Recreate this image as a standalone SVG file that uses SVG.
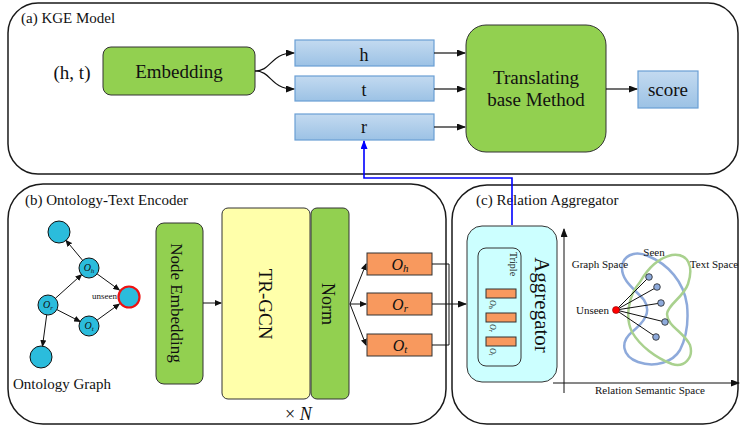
<svg xmlns="http://www.w3.org/2000/svg" width="741" height="426" viewBox="0 0 741 426">
<style>
text{font-family:"Liberation Serif","Times New Roman",serif;fill:#111}
.panel{fill:#fff;stroke:#1a1a1a;stroke-width:1.5}
.green{fill:#92d050;stroke:#333;stroke-width:1}
.blue{fill:url(#blueg);stroke:#6a9fd4;stroke-width:1.2}
.orange{fill:#f8995e;stroke:#333;stroke-width:1}
.node{fill:#2bbcdc;stroke:#111;stroke-width:1}
.edge{fill:none;stroke:#111;stroke-width:1.2}
.thin{fill:none;stroke:#111;stroke-width:1}
.lbl{font-size:19px;text-anchor:middle}
.title{font-size:15px}
.small{font-size:11px}
.math{font-style:italic}
</style>
<defs>
<linearGradient id="blueg" x1="0" y1="0" x2="0" y2="1">
<stop offset="0" stop-color="#c3daf0"/>
<stop offset="1" stop-color="#9cc2e5"/>
</linearGradient>
<marker id="ah" markerUnits="userSpaceOnUse" markerWidth="9" markerHeight="7" refX="8" refY="3.5" orient="auto">
<path d="M0,0 L9,3.5 L0,7 z" fill="#111"/>
</marker>
<marker id="ahs" markerUnits="userSpaceOnUse" markerWidth="7" markerHeight="6" refX="6" refY="3" orient="auto">
<path d="M0,0 L7,3 L0,6 z" fill="#111"/>
</marker>
<marker id="ahb" markerUnits="userSpaceOnUse" markerWidth="9" markerHeight="7" refX="8" refY="3.5" orient="auto">
<path d="M0,0 L9,3.5 L0,7 z" fill="#0000ff"/>
</marker>
</defs>

<!-- Panels -->
<g id="panel-a">
<rect class="panel" x="8" y="3" width="730" height="171" rx="30"/>
<text class="title" x="21" y="23">(a) KGE Model</text>
</g>
<g id="panel-b">
<rect class="panel" x="8" y="184" width="438" height="240" rx="35"/>
<text class="title" x="25" y="205">(b) Ontology-Text Encoder</text>
</g>
<g id="panel-c">
<rect class="panel" x="452" y="185" width="286" height="239" rx="35"/>
<text class="title" x="476" y="205">(c) Relation Aggregator</text>
</g>

<!-- Panel (a) nodes -->
<g id="input-ht"><text class="lbl" x="72" y="79">(h, t)</text></g>
<g id="embedding">
<rect class="green" x="103" y="47" width="152" height="48" rx="8"/>
<text class="lbl" x="179" y="78">Embedding</text>
</g>
<g id="h-box">
<rect class="blue" x="295" y="40" width="139" height="26"/>
<text class="lbl" x="364" y="61" style="font-size:18px">h</text>
</g>
<g id="t-box">
<rect class="blue" x="295" y="76" width="139" height="25"/>
<text class="lbl" x="364" y="96" style="font-size:18px">t</text>
</g>
<g id="r-box">
<rect class="blue" x="295" y="114" width="139" height="26"/>
<text class="lbl" x="364" y="133" style="font-size:18px">r</text>
</g>
<g id="translating">
<rect class="green" x="466" y="25" width="140" height="127" rx="20"/>
<text class="lbl" x="536" y="84">Translating</text>
<text class="lbl" x="536" y="106">base Method</text>
</g>
<g id="score">
<rect class="blue" x="638" y="71" width="60" height="37"/>
<text class="lbl" x="668" y="96">score</text>
</g>

<!-- Panel (b) nodes -->
<g id="onto-graph">
<circle class="node" cx="59" cy="232" r="11"/>
<circle class="node" cx="89" cy="268" r="10"/>
<circle class="node" cx="129" cy="297" r="10.5" style="stroke:#ee1111;stroke-width:2.2"/>
<circle class="node" cx="48" cy="305" r="10"/>
<circle class="node" cx="89" cy="326" r="10"/>
<circle class="node" cx="41" cy="357" r="11"/>
<text x="89" y="271" class="math" style="font-size:10px" text-anchor="middle">O<tspan dy="1.5" font-size="7">h</tspan></text>
<text x="48" y="308" class="math" style="font-size:10px" text-anchor="middle">O<tspan dy="1.5" font-size="7">r</tspan></text>
<text x="89" y="329" class="math" style="font-size:10px" text-anchor="middle">O<tspan dy="1.5" font-size="7">t</tspan></text>
<text x="92" y="299" style="font-size:9px">unseen</text>
<path class="thin" marker-end="url(#ahs)" d="M82.6,260.3 L66.0,240.4"/>
<path class="thin" marker-end="url(#ahs)" d="M55.4,298.3 L81.6,274.7"/>
<path class="thin" marker-end="url(#ahs)" d="M97.1,273.9 L119.3,290.0"/>
<path class="thin" marker-end="url(#ahs)" d="M56.9,309.6 L80.1,321.5"/>
<path class="thin" marker-end="url(#ahs)" d="M97.1,320.1 L119.3,304.0"/>
<path class="thin" marker-end="url(#ahs)" d="M46.7,314.9 L42.5,346.1"/>
<text x="13" y="389" style="font-size:15px">Ontology Graph</text>
</g>
<g id="node-embedding">
<rect class="green" x="156" y="223" width="47" height="161" rx="8"/>
<text transform="translate(171,303) rotate(90)" text-anchor="middle" style="font-size:17px">Node Embedding</text>
</g>
<g id="tr-gcn">
<rect x="222" y="208" width="88" height="191" rx="6" fill="#ffffaa" stroke="#333" stroke-width="1"/>
<text transform="translate(259,304) rotate(90)" text-anchor="middle" style="font-size:19px">TR-GCN</text>
</g>
<g id="norm">
<rect class="green" x="311" y="208" width="38" height="191" rx="6"/>
<text transform="translate(322,304) rotate(90)" text-anchor="middle" style="font-size:18px">Norm</text>
</g>
<g id="times-n"><text x="285" y="420" style="font-size:18px">× <tspan class="math">N</tspan></text></g>
<g id="oh-box">
<rect class="orange" x="367" y="253" width="65" height="22"/>
<text x="400" y="270" class="math" style="font-size:16px" text-anchor="middle">O<tspan dy="2" font-size="11">h</tspan></text>
</g>
<g id="or-box">
<rect class="orange" x="367" y="293" width="65" height="22"/>
<text x="400" y="310" class="math" style="font-size:16px" text-anchor="middle">O<tspan dy="2" font-size="11">r</tspan></text>
</g>
<g id="ot-box">
<rect class="orange" x="367" y="334" width="65" height="22"/>
<text x="400" y="351" class="math" style="font-size:16px" text-anchor="middle">O<tspan dy="2" font-size="11">t</tspan></text>
</g>

<!-- Panel (c) nodes -->
<g id="aggregator">
<rect x="467" y="226" width="90" height="156" rx="15" fill="#ccffff" stroke="#333" stroke-width="1"/>
<rect x="478" y="248" width="43" height="118" rx="8" fill="none" stroke="#333" stroke-width="1"/>
<text transform="translate(510,252) rotate(90)" style="font-size:10px">Triple</text>
<rect class="orange" x="486" y="289" width="30" height="9"/>
<rect class="orange" x="486" y="313" width="30" height="9"/>
<rect class="orange" x="486" y="337" width="30" height="9"/>
<text transform="translate(490,300) rotate(90)" class="math" style="font-size:8px">O<tspan dy="1" font-size="6">h</tspan></text>
<text transform="translate(490,324) rotate(90)" class="math" style="font-size:8px">O<tspan dy="1" font-size="6">r</tspan></text>
<text transform="translate(490,348) rotate(90)" class="math" style="font-size:8px">O<tspan dy="1" font-size="6">t</tspan></text>
<text transform="translate(535,305) rotate(90)" text-anchor="middle" style="font-size:21px">Aggregator</text>
</g>
<g id="semantic-space">
<path class="thin" marker-end="url(#ah)" d="M564,393 L564,229"/>
<path class="thin" marker-end="url(#ah)" d="M553,383 L739,383"/>
<text class="small" x="650" y="394" text-anchor="middle">Relation Semantic Space</text>
<path fill="none" stroke="#8eaadb" stroke-width="2.5" d="M622,268 C622,256 634,250 648,256 C668,264 684,282 687,305 C689,325 686,338 680,350 C673,362 655,368 638,362 C622,356 620,342 632,332 C644,322 652,312 644,300 C636,290 622,282 622,268 Z"/>
<path fill="none" stroke="#a9d18e" stroke-width="2.5" d="M640,282 C648,268 658,258 672,255 C688,253 694,266 688,284 C683,298 668,304 667,314 C667,326 684,332 690,345 C694,358 684,368 672,364 C656,358 640,346 632,332 C625,318 628,296 640,282 Z"/>
<g class="thin">
<line x1="616" y1="310" x2="649" y2="277"/>
<line x1="616" y1="310" x2="657" y2="287"/>
<line x1="616" y1="310" x2="661" y2="303"/>
<line x1="616" y1="310" x2="665" y2="322"/>
<line x1="616" y1="310" x2="656" y2="337"/>
</g>
<g fill="#8eaadb" stroke="#222" stroke-width="0.8">
<circle cx="649" cy="277" r="3.3"/>
<circle cx="657" cy="287" r="3.3"/>
<circle cx="661" cy="303" r="3.3"/>
<circle cx="665" cy="322" r="3.3"/>
<circle cx="656" cy="337" r="3.3"/>
</g>
<circle cx="616" cy="310" r="3.5" fill="#ff0000" stroke="#880000" stroke-width="0.6"/>
<text class="small" x="609" y="314" text-anchor="end">Unseen</text>
<text class="small" x="654" y="256" text-anchor="middle">Seen</text>
<text class="small" x="600" y="268" text-anchor="middle">Graph Space</text>
<text class="small" x="714" y="268" text-anchor="middle">Text Space</text>
</g>

<!-- Connectors -->
<g id="connectors">
<path class="edge" marker-end="url(#ah)" d="M255,71 C272,71 270,53 294,53"/>
<path class="edge" marker-end="url(#ah)" d="M255,71 C272,71 270,89 294,89"/>
<path class="edge" marker-end="url(#ah)" d="M434,53 L465,53"/>
<path class="edge" marker-end="url(#ah)" d="M434,89 L465,89"/>
<path class="edge" marker-end="url(#ah)" d="M434,127 L465,127"/>
<path class="edge" marker-end="url(#ah)" d="M606,89 L637,89"/>
<path fill="none" stroke="#0000ff" stroke-width="1.6" marker-end="url(#ahb)" d="M512,225 L512,178 L364,178 L364,141"/>
<path class="thin" marker-end="url(#ahs)" d="M203,303 L221,303"/>
<path class="thin" marker-end="url(#ahs)" d="M350,304 L366,264"/>
<path class="thin" marker-end="url(#ahs)" d="M350,304 L366,304"/>
<path class="thin" marker-end="url(#ahs)" d="M350,304 L366,345"/>
<path class="thin" d="M432,264 L449,264 L449,345 L432,345"/>
<path class="edge" marker-end="url(#ah)" d="M432,304 L466,304"/>
</g>
</svg>
